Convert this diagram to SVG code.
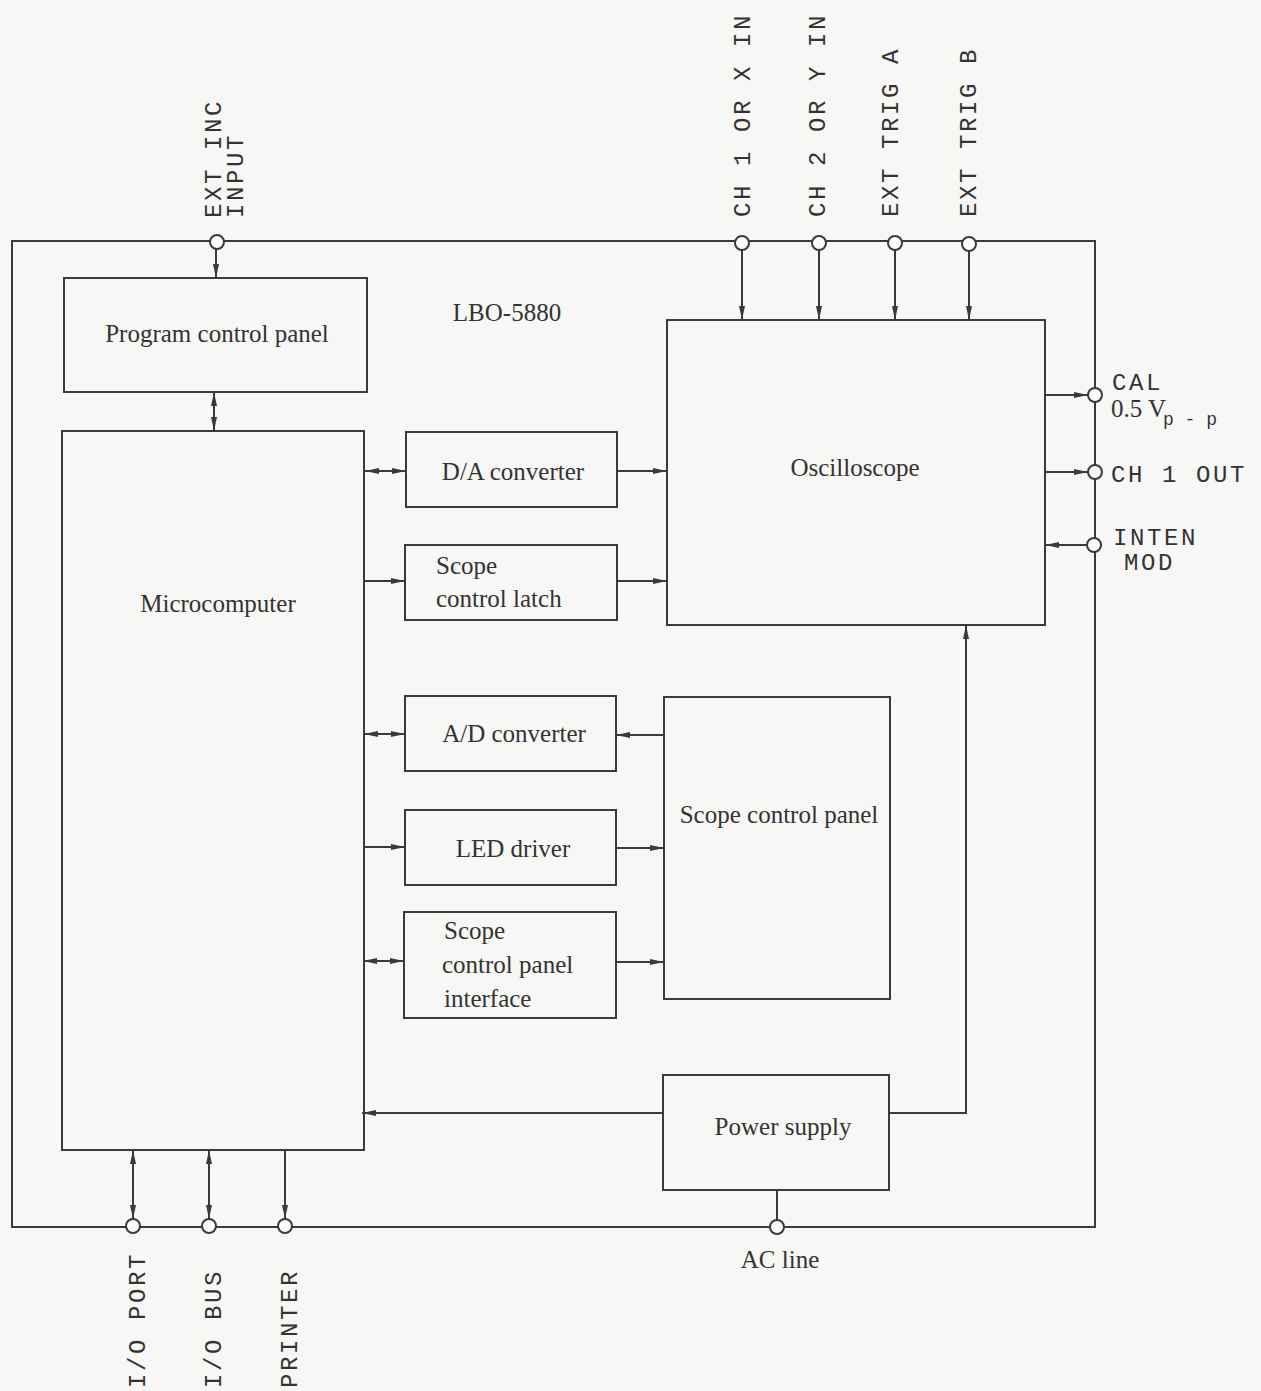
<svg xmlns="http://www.w3.org/2000/svg" width="1261" height="1391" viewBox="0 0 1261 1391">
<style>
.bg{fill:#f7f7f5}
.box{fill:none;stroke:#3a3a3a;stroke-width:2}
.frame{fill:none;stroke:#3a3a3a;stroke-width:2}
.ln{fill:none;stroke:#3a3a3a;stroke-width:2}
.port{fill:#fbfbfa;stroke:#3a3a3a;stroke-width:2}
.lbl{font-family:"Liberation Serif","Times New Roman",serif;font-size:25px;fill:#333}
.mono{font-family:"Liberation Mono","Courier New",monospace;font-size:24px;letter-spacing:2.6px;fill:#333}
.sub{font-family:"Liberation Mono","Courier New",monospace;font-size:18px;fill:#333}
</style>
<defs>
<marker id="ah" viewBox="0 0 14 7" refX="14" refY="3.5" markerWidth="14" markerHeight="7" markerUnits="userSpaceOnUse" orient="auto-start-reverse">
<path d="M0,0.5 L14,3.5 L0,6.5 Z" fill="#3a3a3a"/>
</marker>
</defs>
<rect class="bg" x="0" y="0" width="1261" height="1391"/>
<text class="lbl" x="507" y="321" text-anchor="middle">LBO-5880</text>
<g id="connectors">
<rect class="frame" x="12" y="241" width="1083" height="986"/>
<line class="ln" x1="216" y1="249" x2="216" y2="278" marker-end="url(#ah)"/>
<line class="ln" x1="742" y1="250" x2="742" y2="320" marker-end="url(#ah)"/>
<line class="ln" x1="819" y1="250" x2="819" y2="320" marker-end="url(#ah)"/>
<line class="ln" x1="895" y1="250" x2="895" y2="320" marker-end="url(#ah)"/>
<line class="ln" x1="969" y1="250" x2="969" y2="320" marker-end="url(#ah)"/>
<line class="ln" x1="214" y1="392" x2="214" y2="431" marker-start="url(#ah)" marker-end="url(#ah)"/>
<line class="ln" x1="365" y1="471" x2="406" y2="471" marker-start="url(#ah)" marker-end="url(#ah)"/>
<line class="ln" x1="617" y1="471" x2="667" y2="471" marker-end="url(#ah)"/>
<line class="ln" x1="365" y1="581" x2="405" y2="581" marker-end="url(#ah)"/>
<line class="ln" x1="617" y1="581" x2="667" y2="581" marker-end="url(#ah)"/>
<line class="ln" x1="364" y1="734" x2="405" y2="734" marker-start="url(#ah)" marker-end="url(#ah)"/>
<line class="ln" x1="664" y1="735" x2="616" y2="735" marker-end="url(#ah)"/>
<line class="ln" x1="364" y1="847" x2="405" y2="847" marker-end="url(#ah)"/>
<line class="ln" x1="616" y1="848" x2="664" y2="848" marker-end="url(#ah)"/>
<line class="ln" x1="363" y1="961" x2="404" y2="961" marker-start="url(#ah)" marker-end="url(#ah)"/>
<line class="ln" x1="616" y1="962" x2="664" y2="962" marker-end="url(#ah)"/>
<line class="ln" x1="663" y1="1113" x2="362" y2="1113" marker-end="url(#ah)"/>
<polyline class="ln" points="889,1113 966,1113 966,625" marker-end="url(#ah)"/>
<line class="ln" x1="777" y1="1190" x2="777" y2="1220"/>
<line class="ln" x1="1045" y1="395" x2="1088" y2="395" marker-end="url(#ah)"/>
<line class="ln" x1="1045" y1="472" x2="1088" y2="472" marker-end="url(#ah)"/>
<line class="ln" x1="1087" y1="545" x2="1045" y2="545" marker-end="url(#ah)"/>
<line class="ln" x1="133" y1="1150" x2="133" y2="1219" marker-start="url(#ah)" marker-end="url(#ah)"/>
<line class="ln" x1="209" y1="1150" x2="209" y2="1219" marker-start="url(#ah)" marker-end="url(#ah)"/>
<line class="ln" x1="285" y1="1150" x2="285" y2="1219" marker-end="url(#ah)"/>
</g>
<g id="program-control-panel">
<rect class="box" x="64" y="278" width="303" height="114"/>
<text class="lbl" x="217" y="342" text-anchor="middle">Program control panel</text>
</g>
<g id="microcomputer">
<rect class="box" x="62" y="431" width="302" height="719"/>
<text class="lbl" x="218" y="612" text-anchor="middle">Microcomputer</text>
</g>
<g id="da-converter">
<rect class="box" x="406" y="432" width="211" height="75"/>
<text class="lbl" x="513" y="480" text-anchor="middle">D/A converter</text>
</g>
<g id="scope-control-latch">
<rect class="box" x="405" y="545" width="212" height="75"/>
<text class="lbl" x="436" y="574">Scope</text>
<text class="lbl" x="436" y="607">control latch</text>
</g>
<g id="oscilloscope">
<rect class="box" x="667" y="320" width="378" height="305"/>
<text class="lbl" x="855" y="476" text-anchor="middle">Oscilloscope</text>
</g>
<g id="ad-converter">
<rect class="box" x="405" y="696" width="211" height="75"/>
<text class="lbl" x="514" y="742" text-anchor="middle">A/D converter</text>
</g>
<g id="led-driver">
<rect class="box" x="405" y="810" width="211" height="75"/>
<text class="lbl" x="513" y="857" text-anchor="middle">LED driver</text>
</g>
<g id="scope-control-panel-interface">
<rect class="box" x="404" y="912" width="212" height="106"/>
<text class="lbl" x="444" y="939">Scope</text>
<text class="lbl" x="442" y="973">control panel</text>
<text class="lbl" x="444" y="1007">interface</text>
</g>
<g id="scope-control-panel">
<rect class="box" x="664" y="697" width="226" height="302"/>
<text class="lbl" x="779" y="823" text-anchor="middle">Scope control panel</text>
</g>
<g id="power-supply">
<rect class="box" x="663" y="1075" width="226" height="115"/>
<text class="lbl" x="783" y="1135" text-anchor="middle">Power supply</text>
</g>
<g id="port-ext-inc">
<circle class="port" cx="217" cy="242" r="7"/>
<text class="mono" transform="translate(221,218) rotate(-90)">EXT INC</text>
<text class="mono" transform="translate(243,218) rotate(-90)">INPUT</text>
</g>
<g id="port-ch1-in">
<circle class="port" cx="742" cy="243" r="7"/>
<text class="mono" transform="translate(750,217) rotate(-90)">CH 1 OR X IN</text>
</g>
<g id="port-ch2-in">
<circle class="port" cx="819" cy="243" r="7"/>
<text class="mono" transform="translate(825,217) rotate(-90)">CH 2 OR Y IN</text>
</g>
<g id="port-ext-trig-a">
<circle class="port" cx="895" cy="243" r="7"/>
<text class="mono" transform="translate(898,217) rotate(-90)">EXT TRIG A</text>
</g>
<g id="port-ext-trig-b">
<circle class="port" cx="969" cy="244" r="7"/>
<text class="mono" transform="translate(976,217) rotate(-90)">EXT TRIG B</text>
</g>
<g id="port-cal">
<circle class="port" cx="1095" cy="395" r="7"/>
<text class="mono" x="1112" y="390">CAL</text>
<text class="lbl" x="1111" y="417">0.5 V</text>
<text class="sub" x="1163" y="425">p - p</text>
</g>
<g id="port-ch1-out">
<circle class="port" cx="1095" cy="472" r="7"/>
<text class="mono" x="1111" y="482">CH 1 OUT</text>
</g>
<g id="port-inten-mod">
<circle class="port" cx="1094" cy="545" r="7"/>
<text class="mono" x="1113" y="545">INTEN</text>
<text class="mono" x="1124" y="570">MOD</text>
</g>
<g id="port-io-port">
<circle class="port" cx="133" cy="1226" r="7"/>
<text class="mono" transform="translate(145,1388) rotate(-90)">I/O PORT</text>
</g>
<g id="port-io-bus">
<circle class="port" cx="209" cy="1226" r="7"/>
<text class="mono" transform="translate(221,1388) rotate(-90)">I/O BUS</text>
</g>
<g id="port-printer">
<circle class="port" cx="285" cy="1226" r="7"/>
<text class="mono" transform="translate(297,1388) rotate(-90)">PRINTER</text>
</g>
<g id="port-ac-line">
<circle class="port" cx="777" cy="1227" r="7"/>
<text class="lbl" x="780" y="1268" text-anchor="middle">AC line</text>
</g>
</svg>
